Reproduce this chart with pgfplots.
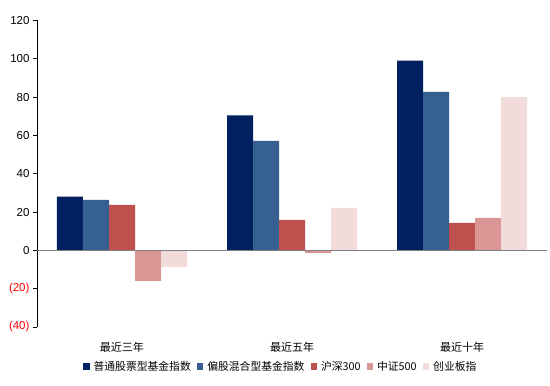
\documentclass[border=0pt]{standalone}
\usepackage{pgfplots}
\pgfplotsset{compat=1.18}
\usepackage{fontspec}
\setmainfont{Liberation Sans}
\newfontfamily\cjk{Noto Sans CJK SC}
\definecolor{c1}{RGB}{0,32,96}
\definecolor{c2}{RGB}{55,96,146}
\definecolor{c3}{RGB}{192,80,77}
\definecolor{c4}{RGB}{217,150,148}
\definecolor{c5}{RGB}{242,220,219}
\begin{document}
\begin{tikzpicture}[x=1pt,y=1pt]
\begin{axis}[
  at={(37pt,59pt)}, anchor=south west,
  scale only axis, width=510pt, height=306.5pt,
  ybar=0pt, bar width=26pt,
  xmin=-0.5, xmax=2.5, ymin=-40, ymax=120,
  xtick={0,1,2}, xticklabels={{\cjk 最近三年},{\cjk 最近五年},{\cjk 最近十年}},
  x tick style={draw=none},
  xticklabel style={font=\fontsize{11}{12}\selectfont, yshift=-8pt},
  ytick={-40,-20,0,20,40,60,80,100,120},
  yticklabels={\textcolor{red}{(40)},\textcolor{red}{(20)},0,20,40,60,80,100,120},
  yticklabel style={font=\fontsize{11.5}{12}\selectfont},
  separate axis lines,
  axis x line*=bottom, axis y line*=left,
  x axis line style={draw=none},
  y axis line style={black, line width=0.9pt, -},
  y tick style={black, line width=0.9pt},
  tick align=outside, major tick length=4pt,
  legend style={draw=none, at={(0.478,-0.13)}, anchor=center, legend columns=-1,
    font=\fontsize{10.8}{12}\selectfont\cjk, column sep=2pt,
    /tikz/every even column/.append style={column sep=4pt}},
  legend image code/.code={\fill[#1] (0pt,-3pt) rectangle (6.5pt,3.5pt);},
  clip=false,
]
\addplot[fill=c1, draw=none] coordinates {(0,28) (1,70.5) (2,99)};
\addplot[fill=c2, draw=none] coordinates {(0,26.3) (1,57.1) (2,82.8)};
\addplot[fill=c3, draw=none] coordinates {(0,23.7) (1,15.9) (2,14.3)};
\addplot[fill=c4, draw=none] coordinates {(0,-15.9) (1,-1.5) (2,17)};
\addplot[fill=c5, draw=none] coordinates {(0,-8.6) (1,22.2) (2,80)};
\legend{普通股票型基金指数,偏股混合型基金指数,沪深300,中证500,创业板指}
\draw[gray, line width=1pt] (axis cs:-0.5,0) -- (axis cs:2.5,0);
\end{axis}
\pgfresetboundingbox
\useasboundingbox (0,0) rectangle (550,386);
\end{tikzpicture}
\end{document}
